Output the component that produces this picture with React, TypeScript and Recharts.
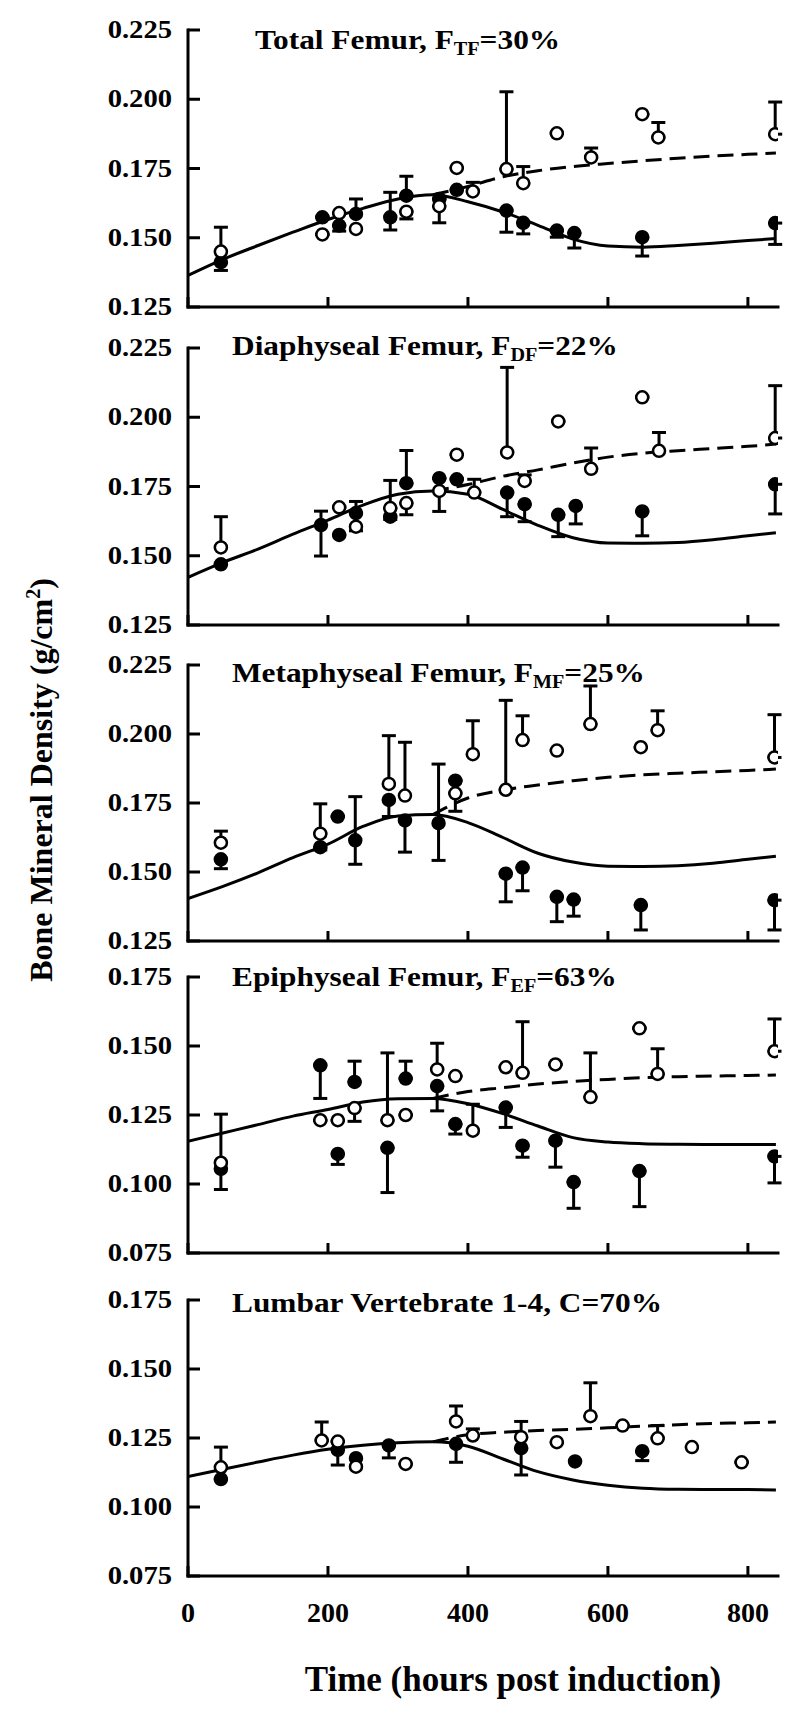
import React from 'react';
import { ComposedChart, Line, Scatter, ErrorBar, XAxis, YAxis } from 'recharts';

const FONT = "'Liberation Serif', 'Times New Roman', Times, serif";

// model curves (hours post induction)
const curveTimes = [0, 50, 100, 150, 200, 250, 300, 350, 400, 450, 500, 550, 600, 650, 700, 750, 800, 840];
const dashTimes = [350, 400, 450, 500, 550, 600, 650, 700, 750, 800, 840];
const xTicks = [0, 200, 400, 600, 800];

const tfSolid = [0.1364, 0.1422, 0.1472, 0.152, 0.1566, 0.1606, 0.164, 0.1655, 0.163, 0.1593, 0.1545, 0.1495, 0.147, 0.1466, 0.1472, 0.148, 0.149, 0.1497];
const tfDashed = [0.1655, 0.1685, 0.172, 0.1742, 0.1757, 0.1768, 0.1778, 0.1787, 0.1795, 0.1801, 0.1806];
const dfSolid = [0.1422, 0.1476, 0.1524, 0.1578, 0.1629, 0.1683, 0.1722, 0.1734, 0.1722, 0.1667, 0.161, 0.1565, 0.1546, 0.1545, 0.1548, 0.1558, 0.1572, 0.1583];
const dfDashed = [0.1734, 0.1757, 0.1787, 0.181, 0.1835, 0.1856, 0.187, 0.1879, 0.1887, 0.1895, 0.1903];
const mfSolid = [0.1404, 0.1448, 0.1497, 0.1552, 0.1601, 0.1665, 0.1703, 0.1708, 0.1679, 0.1625, 0.1568, 0.1536, 0.1521, 0.152, 0.1523, 0.1532, 0.1546, 0.1557];
const mfDashed = [0.1708, 0.1768, 0.1797, 0.1815, 0.1831, 0.1843, 0.1852, 0.1858, 0.1863, 0.1868, 0.1873];
const efSolid = [0.1155, 0.1185, 0.1215, 0.1246, 0.127, 0.1297, 0.1309, 0.131, 0.1291, 0.1255, 0.121, 0.1168, 0.1152, 0.1146, 0.1144, 0.1143, 0.1143, 0.1143];
const efDashed = [0.131, 0.1335, 0.1349, 0.1362, 0.1372, 0.1379, 0.1385, 0.1389, 0.1391, 0.1393, 0.1395];
const lvSolid = [0.111, 0.1137, 0.1163, 0.1188, 0.1209, 0.1224, 0.1233, 0.1236, 0.122, 0.1174, 0.1128, 0.1098, 0.1079, 0.1068, 0.1064, 0.1063, 0.1063, 0.1062];
const lvDashed = [0.1236, 0.1262, 0.1271, 0.1277, 0.1281, 0.1287, 0.1293, 0.1298, 0.1303, 0.1305, 0.1308];

// measured points: [hours, BMD, error down, error up]
type Pt = [number, number, number, number];

const tfFilled: Pt[] = [
  [47, 0.1412, 0.003, 0], [192, 0.1574, 0, 0], [216, 0.1544, 0.002, 0], [240, 0.1586, 0, 0.0054],
  [289, 0.1574, 0.0046, 0.009], [312, 0.1652, 0, 0.007], [359, 0.164, 0, 0], [384, 0.1673, 0, 0],
  [455, 0.1598, 0.0078, 0], [479, 0.1554, 0.004, 0], [527, 0.1526, 0.0024, 0], [552, 0.1517, 0.0054, 0],
  [649, 0.1502, 0.0068, 0], [839, 0.1553, 0.0077, 0]
];
const tfOpen: Pt[] = [
  [47, 0.145, 0, 0.0088], [192, 0.1512, 0, 0], [216, 0.1589, 0, 0], [240, 0.1532, 0, 0],
  [312, 0.1594, 0.0026, 0], [359, 0.1614, 0.006, 0], [384, 0.1752, 0, 0], [407, 0.1667, 0, 0.0033],
  [455, 0.1748, 0, 0.0279], [479, 0.1697, 0, 0.006], [527, 0.1877, 0, 0], [576, 0.179, 0, 0.0034],
  [649, 0.1946, 0, 0], [672, 0.1862, 0, 0.0054], [839, 0.1874, 0, 0.0116]
];
const dfFilled: Pt[] = [
  [47, 0.1469, 0, 0], [190, 0.1611, 0.0112, 0.005], [216, 0.1575, 0, 0], [240, 0.1654, 0, 0.0042],
  [289, 0.1641, 0.001, 0], [312, 0.1762, 0, 0.0118], [359, 0.178, 0, 0], [384, 0.1776, 0, 0],
  [456, 0.1728, 0.0087, 0], [481, 0.1686, 0.0063, 0], [529, 0.1648, 0.0079, 0], [554, 0.168, 0.0065, 0],
  [649, 0.166, 0.0088, 0], [839, 0.1758, 0.0107, 0]
];
const dfOpen: Pt[] = [
  [47, 0.153, 0, 0.0111], [216, 0.1675, 0, 0], [240, 0.1605, 0.0015, 0], [289, 0.1672, 0, 0.01],
  [312, 0.169, 0.0042, 0], [359, 0.1734, 0.0074, 0], [384, 0.1865, 0, 0], [409, 0.1728, 0, 0.0048],
  [456, 0.1873, 0, 0.0307], [481, 0.177, 0, 0.0022], [529, 0.1985, 0, 0], [576, 0.1814, 0, 0.0075],
  [649, 0.2072, 0, 0], [673, 0.1879, 0, 0.0066], [839, 0.1925, 0, 0.0189]
];
const mfFilled: Pt[] = [
  [47, 0.1546, 0.0034, 0], [189, 0.159, 0.001, 0], [214, 0.1701, 0, 0], [239, 0.1615, 0.0087, 0.0158],
  [287, 0.1761, 0.006, 0], [310, 0.1687, 0.0115, 0], [358, 0.1677, 0.0135, 0.0214], [382, 0.1831, 0, 0],
  [454, 0.1494, 0.0102, 0], [478, 0.1516, 0.0084, 0], [527, 0.141, 0.009, 0], [551, 0.14, 0.006, 0],
  [647, 0.138, 0.009, 0], [838, 0.1398, 0.0108, 0]
];
const mfOpen: Pt[] = [
  [47, 0.1606, 0, 0.0042], [189, 0.1639, 0, 0.0108], [287, 0.1819, 0, 0.0175], [310, 0.1777, 0, 0.0193],
  [382, 0.1785, 0.0065, 0], [407, 0.1927, 0, 0.0121], [454, 0.1798, 0, 0.0324], [478, 0.1978, 0, 0.0088],
  [527, 0.194, 0, 0], [575, 0.2036, 0, 0.0138], [647, 0.1952, 0, 0], [671, 0.2014, 0, 0.007],
  [838, 0.1915, 0, 0.0155]
];
const efFilled: Pt[] = [
  [47, 0.1055, 0.0075, 0], [189, 0.143, 0.012, 0], [214, 0.1109, 0.0038, 0], [238, 0.137, 0, 0.0075],
  [285, 0.1131, 0.0162, 0], [311, 0.1382, 0, 0.0063], [356, 0.1355, 0.009, 0], [382, 0.1217, 0.0036, 0],
  [454, 0.1277, 0.0072, 0], [478, 0.1139, 0.0042, 0], [525, 0.1157, 0.0096, 0], [551, 0.1007, 0.0095, 0],
  [645, 0.1047, 0.0129, 0], [838, 0.11, 0.0096, 0]
];
const efOpen: Pt[] = [
  [47, 0.1077, 0, 0.0176], [189, 0.1231, 0, 0], [214, 0.1231, 0, 0], [238, 0.1275, 0.0048, 0],
  [285, 0.1231, 0, 0.0244], [311, 0.125, 0, 0], [356, 0.1415, 0, 0.0095], [382, 0.1391, 0, 0],
  [407, 0.1193, 0, 0.0096], [454, 0.1423, 0, 0], [478, 0.1403, 0, 0.0185], [525, 0.1433, 0, 0],
  [575, 0.1315, 0, 0.016], [645, 0.1564, 0, 0], [671, 0.1399, 0, 0.0091], [838, 0.1481, 0, 0.0117]
];
const lvFilled: Pt[] = [
  [47, 0.1101, 0, 0], [214, 0.1207, 0.0055, 0], [240, 0.1177, 0, 0], [287, 0.1223, 0.0045, 0],
  [383, 0.1229, 0.0067, 0], [476, 0.1213, 0.0097, 0], [553, 0.1165, 0, 0], [649, 0.1202, 0.0034, 0]
];
const lvOpen: Pt[] = [
  [47, 0.1144, 0, 0.0073], [191, 0.1241, 0, 0.0067], [214, 0.1237, 0, 0], [240, 0.1146, 0, 0],
  [311, 0.1156, 0, 0], [383, 0.131, 0, 0.0056], [407, 0.1259, 0, 0.0024], [476, 0.1253, 0, 0.0057],
  [527, 0.1235, 0, 0], [575, 0.1329, 0, 0.0121], [621, 0.1295, 0, 0], [671, 0.1249, 0, 0.0046],
  [720, 0.1217, 0, 0], [791, 0.1162, 0, 0]
];

const femurTicks = [0.125, 0.15, 0.175, 0.2, 0.225];
const lowTicks = [0.075, 0.1, 0.125, 0.15, 0.175];

const toLine = (times: number[], vals: number[]) => times.map((t, i) => ({ t, v: vals[i] }));
const toRows = (pts: Pt[]) => pts.map(([t, v, lo, hi]) => ({ t, v, err: [lo, hi] }));

const YTick = (props: any) => {
  const { x, y, payload } = props;
  return (
    <g>
      <line x1={x} x2={x + 12} y1={y} y2={y} stroke="#000" strokeWidth={3} />
      <text
        transform={`translate(${x - 16},${y + 8}) scale(1.1,1)`}
        textAnchor="end"
        fontFamily={FONT}
        fontWeight="bold"
        fontSize={26}
        fill="#000">
        {Number(payload.value).toFixed(3)}
      </text>
    </g>);
};

const makeXTick = (showLabel: boolean) => (props: any) => {
  const { x, y, payload } = props;
  return (
    <g>
      <line x1={x} x2={x} y1={y} y2={y - 10} stroke="#000" strokeWidth={3} />
      {showLabel &&
      <text x={x} y={y + 46} textAnchor="middle" fontFamily={FONT} fontWeight="bold" fontSize={28} fill="#000">
          {payload.value}
        </text>}
    </g>);
};

const dotShape = (filled: boolean) => (props: any) =>
<circle cx={props.cx} cy={props.cy} r={6} fill={filled ? '#000' : '#fff'} stroke="#000" strokeWidth={2.5} />;

type PanelProps = {
  top: number;
  bottom: number;
  ticks: number[];
  solid: number[];
  dashed: number[];
  filled: Pt[];
  open: Pt[];
  showX?: boolean;
};

function Panel({ top, bottom, ticks, solid, dashed, filled, open, showX = false }: PanelProps) {
  const plotH = bottom - top;
  return (
    <div style={{ position: 'absolute', left: 0, top: top - 20 }}>
      <ComposedChart width={800} height={20 + plotH + 70} margin={{ top: 20, right: 22, bottom: 10, left: 88 }}>
        <XAxis
          type="number"
          dataKey="t"
          domain={[0, 843]}
          ticks={xTicks}
          interval={0}
          allowDataOverflow
          height={60}
          tickSize={0}
          tickMargin={0}
          tickLine={false}
          axisLine={{ stroke: '#000', strokeWidth: 3, strokeLinecap: 'square' }}
          tick={makeXTick(showX)} />
        <YAxis
          type="number"
          domain={[ticks[0], ticks[ticks.length - 1]]}
          ticks={ticks}
          interval={0}
          allowDataOverflow
          width={100}
          tickSize={0}
          tickMargin={0}
          tickLine={false}
          axisLine={{ stroke: '#000', strokeWidth: 3, strokeLinecap: 'square' }}
          tick={<YTick />} />
        <Line
          data={toLine(curveTimes, solid)}
          dataKey="v"
          type="monotone"
          stroke="#000"
          strokeWidth={3}
          dot={false}
          activeDot={false}
          isAnimationActive={false} />
        <Line
          data={toLine(dashTimes, dashed)}
          dataKey="v"
          type="monotone"
          stroke="#000"
          strokeWidth={3}
          strokeDasharray="16 8"
          dot={false}
          activeDot={false}
          isAnimationActive={false} />
        <Scatter data={toRows(filled)} dataKey="v" shape={dotShape(true)} isAnimationActive={false}>
          <ErrorBar dataKey="err" direction="y" width={7} stroke="#000" strokeWidth={3} />
        </Scatter>
        <Scatter data={toRows(open)} dataKey="v" shape={dotShape(false)} isAnimationActive={false}>
          <ErrorBar dataKey="err" direction="y" width={7} stroke="#000" strokeWidth={3} />
        </Scatter>
      </ComposedChart>
    </div>);
}

const titleStyle = { fontFamily: FONT, fontWeight: 'bold' as const, fill: '#000' };

function Title({ x, y, main, sub, rest }: { x: number; y: number; main: string; sub?: string; rest?: string }) {
  return (
    <text transform={`translate(${x},${y}) scale(1.12,1)`} fontSize={28} style={titleStyle}>
      {main}
      {sub && <tspan fontSize={18} dy={6}>{sub}</tspan>}
      {rest && <tspan fontSize={28} dy={sub ? -6 : 0}>{rest}</tspan>}
    </text>);
}

export default function App() {
  return (
    <div style={{ position: 'absolute', left: 0, top: 0, width: 800, height: 1713, background: '#fff', overflow: 'hidden' }}>
      <Panel top={30} bottom={307} ticks={femurTicks} solid={tfSolid} dashed={tfDashed} filled={tfFilled} open={tfOpen} />
      <Panel top={348} bottom={625} ticks={femurTicks} solid={dfSolid} dashed={dfDashed} filled={dfFilled} open={dfOpen} />
      <Panel top={665} bottom={941} ticks={femurTicks} solid={mfSolid} dashed={mfDashed} filled={mfFilled} open={mfOpen} />
      <Panel top={977} bottom={1253} ticks={lowTicks} solid={efSolid} dashed={efDashed} filled={efFilled} open={efOpen} />
      <Panel top={1300} bottom={1576} ticks={lowTicks} solid={lvSolid} dashed={lvDashed} filled={lvFilled} open={lvOpen} showX />
      <svg width={800} height={1713} style={{ position: 'absolute', left: 0, top: 0, pointerEvents: 'none' }}>
        <Title x={255} y={49} main="Total Femur, F" sub="TF" rest="=30%" />
        <Title x={232} y={355} main="Diaphyseal Femur, F" sub="DF" rest="=22%" />
        <Title x={232} y={682} main="Metaphyseal Femur, F" sub="MF" rest="=25%" />
        <Title x={232} y={986} main="Epiphyseal Femur, F" sub="EF" rest="=63%" />
        <Title x={232} y={1312} main="Lumbar Vertebrate 1-4, C=70%" />
        <text x={513} y={1691} textAnchor="middle" fontSize={35} style={titleStyle}>
          Time (hours post induction)
        </text>
        <text transform="translate(52,780) rotate(-90)" textAnchor="middle" fontSize={32} style={titleStyle}>
          Bone Mineral Density (g/cm<tspan dy={-12} fontSize={20}>2</tspan><tspan dy={12} fontSize={32}>)</tspan>
        </text>
      </svg>
    </div>);
}
